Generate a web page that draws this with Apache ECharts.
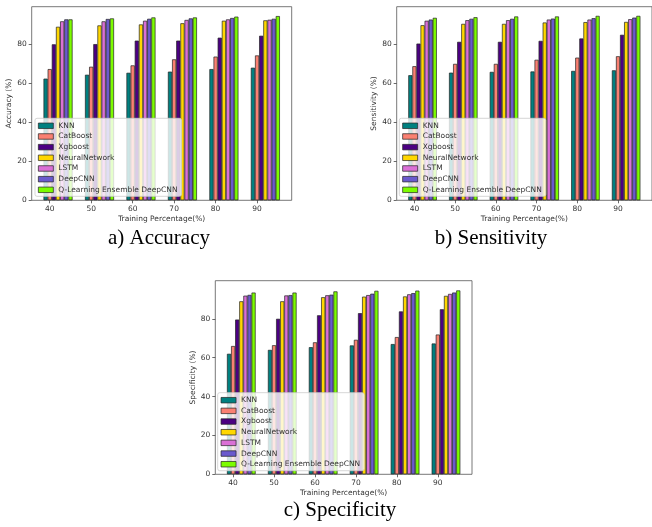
<!DOCTYPE html>
<html>
<head>
<meta charset="utf-8">
<script src="https://cdn.jsdelivr.net/npm/echarts@6/dist/echarts.min.js"></script>
<style>html,body{margin:0;padding:0;background:#fff}#c{width:652px;height:527px}</style>
</head>
<body>
<div id="c"></div>
<script>
const trainPct = [40, 50, 60, 70, 80, 90];
const methods = ['KNN', 'CatBoost', 'Xgboost', 'NeuralNetwork', 'LSTM', 'DeepCNN', 'Q-Learning Ensemble DeepCNN'];
const colors = ['#008080', '#fa8072', '#4b0082', '#ffd700', '#da70d6', '#6a5acd', '#7cfc00'];
const yTicks = [0, 20, 40, 60, 80];

// rows = methods, columns = training percentage
const accuracy = [
  [62.4, 64.4, 65.4, 66.0, 67.3, 68.0],
  [67.3, 68.5, 69.2, 72.3, 73.7, 74.3],
  [80.0, 80.1, 81.9, 81.9, 83.4, 84.4],
  [89.0, 89.7, 90.2, 90.8, 92.1, 92.3],
  [91.8, 91.8, 92.1, 92.5, 92.8, 92.6],
  [92.8, 93.0, 93.1, 93.3, 93.5, 93.1],
  [92.8, 93.3, 93.8, 93.8, 94.2, 94.5]
];
const sensitivity = [
  [64.1, 65.4, 65.8, 66.0, 66.3, 66.6],
  [68.7, 69.9, 69.9, 72.0, 73.1, 73.8],
  [80.3, 81.2, 81.2, 81.7, 82.9, 84.8],
  [89.7, 90.4, 90.4, 91.1, 91.3, 91.4],
  [92.0, 92.3, 92.3, 92.6, 92.6, 92.8],
  [92.6, 93.0, 93.0, 93.1, 93.3, 93.6],
  [93.5, 93.8, 94.2, 94.2, 94.5, 94.5]
];
const specificity = [
  [62.0, 64.0, 65.4, 66.3, 67.0, 67.3],
  [66.0, 66.4, 67.9, 69.2, 70.6, 71.9],
  [79.6, 80.0, 81.8, 82.9, 83.8, 84.9],
  [89.0, 89.0, 91.1, 91.4, 91.5, 91.8],
  [91.9, 92.0, 92.1, 92.2, 92.6, 92.8],
  [92.3, 92.2, 92.4, 92.9, 93.2, 93.5],
  [93.5, 93.5, 94.1, 94.4, 94.5, 94.6]
];

const panels = [
  {data: accuracy, yName: 'Accuracy (%)', caption: 'a) Accuracy', ymax: 99.3,
   grid: {left: 31.7, top: 6.7, width: 260, height: 193.6}, legend: {left: 35, top: 118.3}, cap: {left: 159, top: 228}},
  {data: sensitivity, yName: 'Sensitivity (%)', caption: 'b) Sensitivity', ymax: 99.2,
   grid: {left: 396.7, top: 6.7, width: 260, height: 193.6}, legend: {left: 399.3, top: 118.3}, cap: {left: 491, top: 228}},
  {data: specificity, yName: 'Specificity (%)', caption: 'c) Specificity', ymax: 99.6,
   grid: {left: 215.3, top: 280.7, width: 256.7, height: 193.6}, legend: {left: 217.7, top: 392.7}, cap: {left: 340, top: 500}}
];

const font = 'DejaVu Sans';
const txt = '#333';
const option = {animation: false, grid: [], xAxis: [], yAxis: [], series: [], legend: [], title: []};

panels.forEach((p, k) => {
  option.grid.push(Object.assign({show: true, borderColor: '#555', borderWidth: 0.8, backgroundColor: 'transparent'}, p.grid));
  option.xAxis.push({
    type: 'value', gridIndex: k, min: 35.65, max: 98.35,
    name: 'Training Percentage(%)', nameLocation: 'middle', nameGap: 15,
    nameTextStyle: {fontFamily: font, fontSize: 7.5, color: txt},
    axisLine: {show: false}, splitLine: {show: false},
    axisTick: {show: true, length: 3, customValues: trainPct, lineStyle: {color: '#444', width: 0.8}},
    axisLabel: {customValues: trainPct, fontFamily: font, fontSize: 7.5, color: txt, margin: 4.5}
  });
  option.yAxis.push({
    type: 'value', gridIndex: k, min: 0, max: p.ymax,
    name: p.yName, nameLocation: 'middle', nameGap: 13.5,
    nameTextStyle: {fontFamily: font, fontSize: 7.5, color: txt},
    axisLine: {show: false}, splitLine: {show: false},
    axisTick: {show: true, length: 3, customValues: yTicks, lineStyle: {color: '#444', width: 0.8}},
    axisLabel: {customValues: yTicks, fontFamily: font, fontSize: 7.5, color: txt, margin: 5}
  });
  methods.forEach((m, i) => {
    option.series.push({
      type: 'bar', name: m, xAxisIndex: k, yAxisIndex: k,
      barWidth: '100%', barGap: '-100%',
      itemStyle: {color: colors[i], borderColor: '#222', borderWidth: 0.7},
      emphasis: {disabled: true},
      data: trainPct.map((pct, j) => [pct + (i - 1), p.data[i][j]])
    });
  });
  option.legend.push({
    orient: 'vertical', left: p.legend.left, top: p.legend.top,
    data: methods, icon: 'rect', itemWidth: 15, itemHeight: 5.5, itemGap: 1.67,
    padding: [3, 4, 2, 3],
    backgroundColor: 'rgba(255,255,255,0.8)', borderColor: '#cccccc', borderWidth: 0.8, borderRadius: 2,
    itemStyle: {borderColor: '#222', borderWidth: 0.7},
    textStyle: {fontFamily: font, fontSize: 7.5, color: txt, lineHeight: 9},
    selectedMode: false
  });
  option.title.push({
    text: p.caption, left: p.cap.left, top: p.cap.top, textAlign: 'center', padding: 0,
    textStyle: {fontFamily: 'Liberation Serif', fontSize: 21, fontWeight: 'normal', color: '#000'}
  });
});

const chart = echarts.init(document.getElementById('c'), null, {renderer: 'canvas'});
chart.setOption(option);
</script>
</body>
</html>
